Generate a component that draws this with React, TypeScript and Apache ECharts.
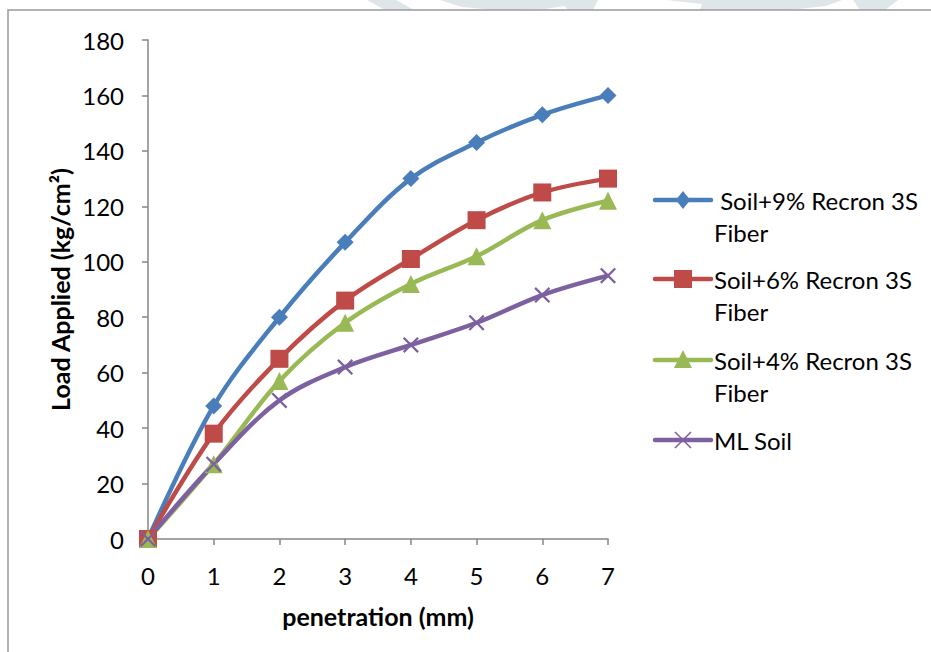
import React, { useEffect, useRef } from "react";
import * as echarts from "echarts";

// penetration (mm)
const penetration = [0, 1, 2, 3, 4, 5, 6, 7];

// load applied (kg/cm²) per mix
const soil9 = [0, 48, 80, 107, 130, 143, 153, 160];
const soil6 = [0, 38, 65, 86, 101, 115, 125, 130];
const soil4 = [0, 27, 57, 78, 92, 102, 115, 122];
const mlSoil = [0, 27, 50, 62, 70, 78, 88, 95];

const seriesNames = [
  "Soil+9% Recron 3S Fiber",
  "Soil+6% Recron 3S Fiber",
  "Soil+4% Recron 3S Fiber",
  "ML Soil",
];
const legendLines = [
  [" Soil+9% Recron 3S", "Fiber"],
  ["Soil+6% Recron 3S", "Fiber"],
  ["Soil+4% Recron 3S", "Fiber"],
  ["ML Soil"],
];
const colors = ["#4a7ebb", "#be4b48", "#98b954", "#7d60a0"];

const FONT = "Lato, 'Open Sans', sans-serif";
const LABEL_SIZE = 24;
const TITLE_SIZE = 25;

// filled X glyph so the cross marker renders as a solid shape
const CROSS =
  "path://M0,1 L1,0 L5,4 L9,0 L10,1 L6,5 L10,9 L9,10 L5,6 L1,10 L0,9 L4,5 Z";
const symbols = ["diamond", "rect", "triangle", CROSS];
const symbolSizes = [17, 18, 18, 16];

function legendMarker(kind: number, cx: number, cy: number, color: string) {
  if (kind === 0) {
    const r = 9;
    return {
      type: "polygon",
      shape: { points: [[cx, cy - r], [cx + r * 0.8, cy], [cx, cy + r], [cx - r * 0.8, cy]] },
      style: { fill: color },
    };
  }
  if (kind === 1) {
    return { type: "rect", shape: { x: cx - 9, y: cy - 9, width: 18, height: 18 }, style: { fill: color } };
  }
  if (kind === 2) {
    return {
      type: "polygon",
      shape: { points: [[cx, cy - 10], [cx + 9, cy + 8], [cx - 9, cy + 8]] },
      style: { fill: color },
    };
  }
  return {
    type: "group",
    children: [
      { type: "line", shape: { x1: cx - 8, y1: cy - 8, x2: cx + 8, y2: cy + 8 }, style: { stroke: color, lineWidth: 1.6 } },
      { type: "line", shape: { x1: cx - 8, y1: cy + 8, x2: cx + 8, y2: cy - 8 }, style: { stroke: color, lineWidth: 1.6 } },
    ],
  };
}

export default function App() {
  const ref = useRef<HTMLDivElement>(null);

  useEffect(() => {
    if (!ref.current) return;
    const chart = echarts.init(ref.current, null, { renderer: "svg" });
    const values = [soil9, soil6, soil4, mlSoil];

    const legendRows = [200, 279, 360, 440];
    const legendGraphics: any[] = [];
    legendLines.forEach((lines, i) => {
      const y = legendRows[i];
      legendGraphics.push({
        type: "line",
        shape: { x1: 655, y1: y, x2: 711, y2: y },
        style: { stroke: colors[i], lineWidth: 4.5, lineCap: "round" },
      });
      legendGraphics.push(legendMarker(i, 683, y, colors[i]));
      legendGraphics.push({
        type: "text",
        x: 714,
        y: y - 16,
        style: {
          text: lines.join("\n"),
          font: `${LABEL_SIZE}px ${FONT}`,
          fill: "#000",
          lineHeight: 32,
          verticalAlign: "top",
          align: "left",
        },
      });
    });

    // faint watermark slivers above the frame
    const wm = "#dfe6ea";
    const watermark = [
      [[367, 0], [396, 0], [414, 10], [385, 10]],
      [[440, 0], [582, 0], [572, 5], [545, 9], [495, 10], [462, 7]],
      [[560, 0], [598, 0], [593, 10], [568, 10]],
      [[667, 0], [842, 0], [826, 6], [790, 10], [700, 10], [702, 4]],
      [[853, 0], [898, 0], [885, 10], [860, 10]],
    ].map((pts) => ({ type: "polygon", shape: { points: pts }, style: { fill: wm }, z: 0 }));

    const axisCommon = {
      nameLocation: "middle",
      nameTextStyle: { fontSize: TITLE_SIZE, fontWeight: "bold", color: "#000", fontFamily: FONT },
      axisLine: { show: true, lineStyle: { color: "#868686", width: 1.5 } },
      axisTick: { show: true, length: 6, lineStyle: { color: "#868686", width: 1.5 } },
      axisLabel: { fontSize: LABEL_SIZE, color: "#000", margin: 24, fontFamily: FONT },
      splitLine: { show: false },
    };

    chart.setOption({
      animation: false,
      backgroundColor: "#fff",
      textStyle: { fontFamily: FONT },
      grid: { left: 148, right: 323, top: 40, bottom: 113, containLabel: false },
      xAxis: {
        type: "value",
        min: 0,
        max: 7,
        interval: 1,
        name: "penetration (mm)",
        nameGap: 64,
        ...axisCommon,
      },
      yAxis: {
        type: "value",
        min: 0,
        max: 180,
        interval: 20,
        name: "Load Applied (kg/cm²)",
        nameGap: 76,
        ...axisCommon,
      },
      series: values.map((vals, i) => ({
        name: seriesNames[i],
        type: "line",
        data: penetration.map((x, k) => [x, vals[k]]),
        smooth: 0.35,
        symbol: symbols[i],
        symbolSize: symbolSizes[i],
        showSymbol: true,
        lineStyle: { color: colors[i], width: 4.5 },
        itemStyle: { color: colors[i] },
        emphasis: { disabled: true },
      })),
      graphic: [
        ...watermark,
        {
          type: "rect",
          shape: { x: 8, y: 10, width: 1000, height: 700 },
          style: { fill: "none", stroke: "#9a9a9a", lineWidth: 1.5 },
          z: 1,
        },
        ...legendGraphics,
      ],
    });

    return () => chart.dispose();
  }, []);

  return (
    <div
      ref={ref}
      style={{ position: "fixed", left: 0, top: 0, width: 931, height: 652 }}
    />
  );
}
